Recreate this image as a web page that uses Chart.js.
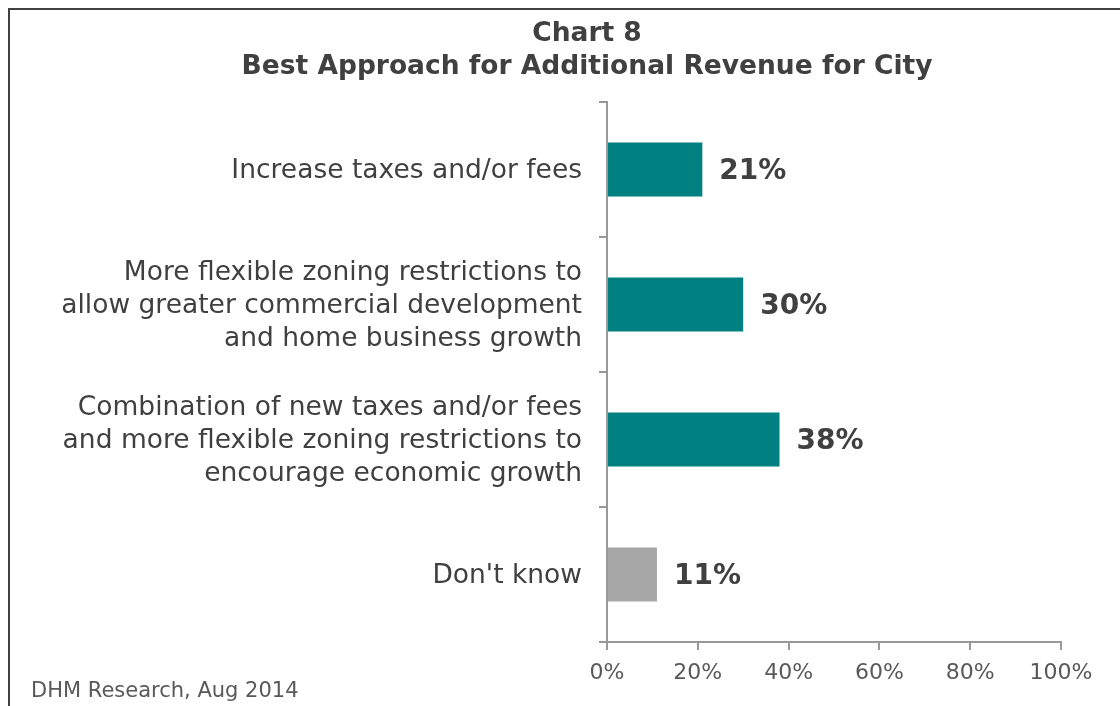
<!DOCTYPE html>
<html>
<head>
<meta charset="utf-8">
<script src="https://cdn.jsdelivr.net/npm/chart.js"></script>
<style>
  body { margin: 0; background: #fff; }
  #wrap { position: relative; width: 1120px; height: 706px; overflow: hidden; }
  #frame { position: absolute; left: 8px; top: 8px; right: -4px; bottom: -4px;
           border-left: 2px solid #404040; border-top: 2px solid #404040; }
  #source { position: absolute; left: 31px; top: 678px; font: 21px "DejaVu Sans", Verdana, sans-serif;
            color: #595959; line-height: 25px; }
  canvas { position: absolute; left: 0; top: 0; }
</style>
</head>
<body>
<div id="wrap">
  <div id="frame"></div>
  <canvas id="myChart" width="1120" height="706"></canvas>
  <div id="source">DHM Research, Aug 2014</div>
</div>
<script>
// datos del grafico
const categories = [
    ['Increase taxes and/or fees'],
    ['More flexible zoning restrictions to', 'allow greater commercial development', 'and home business growth'],
    ['Combination of new taxes and/or fees', 'and more flexible zoning restrictions to', 'encourage economic growth'],
    ["Don't know"]
];
const values = [21, 30, 38, 11];
const barColors = ['#008080', '#008080', '#008080', '#A6A6A6'];
const xTicks = [0, 20, 40, 60, 80, 100];

const FONT = '"DejaVu Sans", Verdana, sans-serif';

// etiquetas de valor al final de cada barra
const valueLabels = {
    id: 'valueLabels',
    afterLayout(chart) {
        // centrar el titulo un poco a la derecha, como en el original
        chart.titleBlock.left = 113;
    },
    afterDatasetsDraw(chart) {
        const ctx = chart.ctx;
        const meta = chart.getDatasetMeta(0);
        ctx.save();
        ctx.font = 'bold 28px ' + FONT;
        ctx.fillStyle = '#404040';
        ctx.textBaseline = 'middle';
        meta.data.forEach((bar, i) => {
            ctx.fillText(values[i] + '%', bar.x + 17, bar.y + 2);
        });
        ctx.restore();
    }
};

const ctx = document.querySelector('#myChart');

new Chart(ctx, {
    type: 'bar',
    data: {
        labels: categories,
        datasets: [{
            data: values,
            backgroundColor: barColors,
            borderWidth: 0,
            categoryPercentage: 1,
            barPercentage: 0.4
        }]
    },
    options: {
        indexAxis: 'y',
        responsive: false,
        animation: false,
        layout: { padding: { left: 0, right: 59, top: 0, bottom: 0 } },
        plugins: {
            legend: { display: false },
            tooltip: { enabled: false },
            title: {
                display: true,
                text: ['Chart 8', 'Best Approach for Additional Revenue for City'],
                color: '#404040',
                font: { family: FONT, size: 26.5, weight: 'bold', lineHeight: 1.245 },
                padding: { top: 18, bottom: 18 }
            }
        },
        scales: {
            x: {
                min: 0,
                max: 100,
                afterBuildTicks: (scale) => { scale.ticks = xTicks.map(v => ({ value: v })); },
                afterFit: (scale) => { scale.height = 64; },
                ticks: {
                    callback: (v) => v + '%',
                    color: '#595959',
                    font: { family: FONT, size: 22 },
                    padding: 10,
                    maxRotation: 0
                },
                grid: { drawOnChartArea: false, tickLength: 8, color: '#999999', lineWidth: 2 },
                border: { color: '#999999', width: 2 }
            },
            y: {
                afterFit: (scale) => { scale.width = 607; },
                ticks: {
                    color: '#404040',
                    font: { family: FONT, size: 26.5, lineHeight: 1.245 },
                    padding: 17,
                    labelOffset: 2
                },
                grid: { drawOnChartArea: false, offset: true, tickLength: 8, color: '#999999', lineWidth: 2 },
                border: { color: '#999999', width: 2 }
            }
        }
    },
    plugins: [valueLabels]
});
</script>
</body>
</html>
